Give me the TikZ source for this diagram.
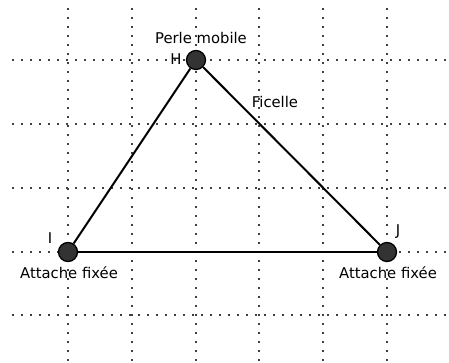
\documentclass[tikz,border=0pt]{standalone}
\usepackage{fontspec}
\setmainfont{DejaVu Sans}
\begin{document}
\begin{tikzpicture}[x=1pt,y=-1pt,
  gridline/.style={draw=black!75,line width=2pt,dash pattern=on 2pt off 7pt},
  bead/.style={circle,draw=black,line width=1.3pt,fill=black!80,minimum size=19pt,inner sep=0pt},
  string/.style={draw=black,line width=2pt},
  lbl/.style={font=\fontsize{14.8}{16}\selectfont,text=black,inner sep=0pt}]
\useasboundingbox (0,0) rectangle (449,362);
\foreach \x in {68,132,196,259,323,387} \draw[gridline] (\x,8) -- (\x,362);
\foreach \y in {60,124,188,252,315} \draw[gridline] (12,\y) -- (449,\y);
\node[bead] (H) at (196,60) {};
\node[bead] (I) at (68,252) {};
\node[bead] (J) at (387,252) {};
\draw[string] (H) -- (I);
\draw[string] (H) -- (J);
\draw[string] (I) -- (J);
\node[lbl] (tH) at (201,38) {Perle mobile};
\node[lbl] (hH) at (176,59) {H};
\node[lbl] (fic) at (275,102) {Ficelle};
\node[lbl] (hI) at (50,238) {I};
\node[lbl] (hJ) at (398,232) {J};
\node[lbl] (tI) at (69,273) {Attache fixée};
\node[lbl] (tJ) at (388,273) {Attache fixée};
\end{tikzpicture}
\end{document}
